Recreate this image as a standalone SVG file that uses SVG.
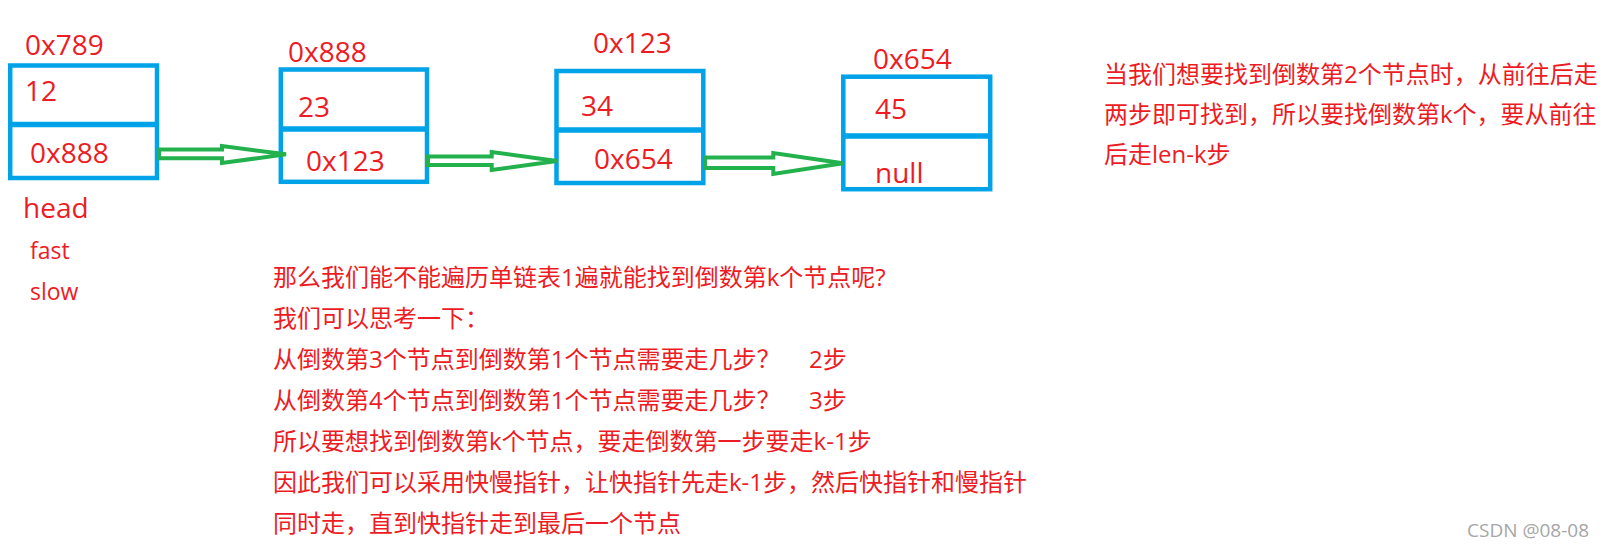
<svg xmlns="http://www.w3.org/2000/svg" width="1605" height="548" viewBox="0 0 1605 548">
<style>
.box{fill:none;stroke:#00A2E8;stroke-width:4.5}
.div{stroke:#00A2E8;stroke-width:5.5}
.lbl{font-family:"Open Sans","Noto Sans",sans-serif;font-size:28px;fill:#ED1C24}
.sm{font-family:"Open Sans","Noto Sans",sans-serif;font-size:23px;fill:#ED1C24}
.cn{font-family:"Open Sans","Noto Sans CJK SC",sans-serif;font-size:24px;fill:#ED1C24}
.arr{fill:none;stroke:#22B14C;stroke-width:4;stroke-linejoin:miter}
.wm{font-family:"Open Sans","Noto Sans",sans-serif;font-size:19px;fill:#a6a6a6}
</style>
<rect width="1605" height="548" fill="#ffffff"/>
<g id="node1">
<rect class="box" x="10.2" y="65.5" width="146.8" height="112.5"/>
<line class="div" x1="10" y1="124.5" x2="157" y2="124.5"/>
<text class="lbl" x="25" y="55">0x789</text>
<text class="lbl" x="25" y="101">12</text>
<text class="lbl" x="30" y="163">0x888</text>
<text class="lbl" x="23" y="218">head</text>
<text class="sm" x="30" y="259">fast</text>
<text class="sm" x="30" y="300">slow</text>
</g>
<g id="node2">
<rect class="box" x="280.8" y="69.5" width="146.2" height="112.3"/>
<line class="div" x1="280.8" y1="129" x2="427" y2="129"/>
<text class="lbl" x="288" y="62">0x888</text>
<text class="lbl" x="298" y="117">23</text>
<text class="lbl" x="306" y="171">0x123</text>
</g>
<g id="node3">
<rect class="box" x="556.5" y="71" width="146.8" height="112"/>
<line class="div" x1="556.5" y1="130" x2="703.3" y2="130"/>
<text class="lbl" x="593" y="53">0x123</text>
<text class="lbl" x="581" y="116">34</text>
<text class="lbl" x="594" y="169">0x654</text>
</g>
<g id="node4">
<rect class="box" x="843.3" y="76.7" width="146.9" height="112.5"/>
<line class="div" x1="843.3" y1="136" x2="990.2" y2="136"/>
<text class="lbl" x="873" y="69">0x654</text>
<text class="lbl" x="875" y="119">45</text>
<text class="lbl" x="875" y="183">null</text>
</g>
<g id="connectors">
<path class="arr" d="M159,149.5 L222,149.5 L222,146 L286,154.3 L222,163 L222,158.3 L159,158.3 Z"/>
<path class="arr" d="M428,156.5 L491.7,156.5 L491.7,152 L557,161 L491.7,170 L491.7,165 L428,165 Z"/>
<path class="arr" d="M705,157.5 L773.3,157.5 L773.3,153 L843,163.3 L773.3,174 L773.3,168 L705,168 Z"/>
</g>
<g id="note-right">
<text class="cn" x="1104" y="83">当我们想要找到倒数第2个节点时，从前往后走</text>
<text class="cn" x="1104" y="123">两步即可找到，所以要找倒数第k个，要从前往</text>
<text class="cn" x="1104" y="163">后走len-k步</text>
</g>
<g id="note-bottom">
<text class="cn" x="273" y="286">那么我们能不能遍历单链表1遍就能找到倒数第k个节点呢?</text>
<text class="cn" x="273" y="327">我们可以思考一下：</text>
<text class="cn" x="273" y="368">从倒数第3个节点到倒数第1个节点需要走几步？<tspan x="809">2步</tspan></text>
<text class="cn" x="273" y="409">从倒数第4个节点到倒数第1个节点需要走几步？<tspan x="809">3步</tspan></text>
<text class="cn" x="273" y="450">所以要想找到倒数第k个节点，要走倒数第一步要走k-1步</text>
<text class="cn" x="273" y="491">因此我们可以采用快慢指针，让快指针先走k-1步，然后快指针和慢指针</text>
<text class="cn" x="273" y="532">同时走，直到快指针走到最后一个节点</text>
</g>
<text class="wm" x="1467" y="537">CSDN @08-08</text>
</svg>
